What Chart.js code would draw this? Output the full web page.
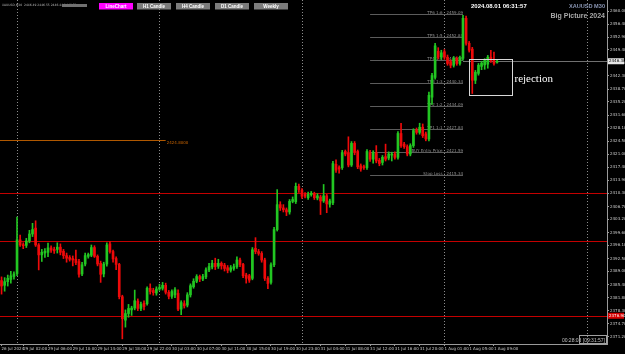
<!DOCTYPE html>
<html>
<head>
<meta charset="utf-8">
<script src="https://cdn.jsdelivr.net/npm/chart.js@4.4.1/dist/chart.umd.min.js"></script>
<style>
html, body { margin: 0; padding: 0; background: #000; }
#wrap { width: 625px; height: 354px; position: relative; }
</style>
</head>
<body>
<div id="wrap"><canvas id="chart"></canvas></div>
<script>
// ===============================
// XAUUSD M30 - candle data
// ===============================
const opens = [
 2386.5,2385.2,2386.2,2386.8,2387.6,2388.4,2397.6,2396.3,2396.1,2397.3,
 2399.2,2400.8,2396.2,2393.5,2394.0,2394.2,2395.4,2395.0,2395.0,2395.6,
 2394.5,2393.3,2392.8,2392.5,2392.3,2391.7,2388.3,2391.0,2393.1,2393.4,
 2395.5,2393.1,2391.2,2388.3,2391.0,2396.5,2394.4,2392.5,2390.9,2382.1,
 2375.7,2377.5,2378.5,2379.0,2380.9,2378.9,2380.3,2380.2,2384.4,2383.8,
 2383.1,2384.2,2384.4,2385.2,2383.3,2382.2,2382.6,2383.0,2378.7,2380.2,
 2379.8,2382.6,2384.8,2386.3,2387.6,2386.9,2387.5,2389.4,2390.2,2391.2,
 2390.4,2391.2,2390.7,2390.0,2389.3,2389.8,2390.3,2392.1,2390.9,2388.0,
 2387.8,2387.1,2395.3,2394.4,2393.9,2392.1,2387.1,2386.0,2390.8,2400.4,
 2407.2,2406.3,2405.8,2405.2,2408.1,2408.0,2412.2,2411.1,2410.0,2409.1,
 2409.9,2410.2,2409.0,2409.3,2408.2,2409.6,2407.3,2407.7,2418.2,2417.3,
 2417.3,2421.7,2421.4,2418.0,2423.9,2421.7,2417.8,2417.5,2417.3,2421.4,
 2419.6,2421.4,2419.3,2418.7,2420.3,2419.9,2420.7,2421.0,2420.1,2426.6,
 2423.7,2423.0,2421.0,2423.3,2427.6,2426.9,2428.3,2426.5,2425.1,2436.5,
 2441.9,2449.0,2447.4,2448.9,2447.4,2446.2,2445.2,2447.1,2445.7,2447.1,
 2458.0,2451.2,2449.6,2441.1,2443.0,2444.9,2445.3,2445.5,2447.4,2446.8,
 2446.0
];
const highs = [
 2387.5,2387.3,2388.0,2389.0,2388.9,2403.8,2398.9,2396.8,2398.0,2400.2,
 2402.1,2402.8,2396.6,2395.0,2395.2,2396.7,2396.0,2395.6,2396.8,2396.5,
 2395.0,2394.0,2393.3,2393.2,2394.8,2392.3,2391.5,2394.0,2394.0,2396.2,
 2396.0,2393.5,2391.8,2391.5,2396.8,2397.1,2394.8,2393.0,2391.2,2382.5,
 2378.5,2380.0,2379.5,2383.9,2381.5,2380.6,2381.0,2384.8,2385.6,2384.4,
 2384.8,2385.5,2386.0,2385.8,2383.8,2384.0,2384.6,2384.0,2381.0,2381.0,
 2383.2,2385.6,2387.0,2388.1,2388.0,2388.2,2390.0,2391.2,2392.0,2392.6,
 2392.3,2391.6,2391.2,2390.6,2390.6,2391.0,2393.0,2392.6,2391.2,2388.5,
 2388.2,2395.5,2398.2,2395.0,2394.4,2392.6,2387.6,2391.3,2401.0,2411.3,
 2408.0,2407.2,2406.3,2408.6,2409.3,2413.1,2412.8,2411.6,2410.5,2410.6,
 2410.8,2410.6,2410.2,2409.8,2412.7,2410.0,2408.7,2419.0,2419.4,2417.8,
 2422.0,2422.1,2425.7,2424.4,2424.4,2422.1,2418.3,2418.0,2422.2,2422.0,
 2421.9,2423.3,2419.8,2420.6,2423.7,2421.6,2421.5,2421.6,2427.1,2429.4,
 2424.2,2423.5,2423.8,2427.9,2428.1,2429.4,2429.2,2427.0,2437.9,2443.0,
 2451.2,2450.0,2449.3,2449.5,2448.0,2446.7,2447.6,2447.5,2447.7,2458.8,
 2458.6,2451.7,2450.1,2443.8,2445.7,2446.3,2447.0,2447.9,2449.3,2448.8,
 2446.7
];
const lows = [
 2382.8,2383.6,2385.0,2385.8,2386.9,2387.8,2395.8,2395.2,2395.5,2396.8,
 2398.5,2395.8,2389.4,2391.7,2392.8,2393.0,2394.2,2393.9,2394.0,2393.5,
 2392.5,2391.5,2391.8,2390.5,2390.8,2387.4,2387.8,2390.5,2392.6,2393.0,
 2392.8,2390.5,2386.0,2387.5,2390.4,2394.0,2391.5,2389.5,2381.5,2370.6,
 2373.8,2376.5,2377.0,2378.5,2378.3,2378.3,2378.5,2379.8,2382.8,2382.5,
 2382.5,2383.8,2383.9,2382.8,2381.5,2381.6,2381.8,2378.3,2377.2,2379.0,
 2379.3,2382.0,2384.4,2385.9,2386.2,2386.5,2387.0,2388.9,2389.7,2389.5,
 2389.8,2389.6,2389.1,2388.6,2388.8,2389.3,2389.8,2390.3,2387.3,2385.8,
 2386.0,2386.7,2393.8,2393.4,2391.5,2386.5,2384.3,2385.5,2390.3,2400.0,
 2405.6,2405.2,2404.2,2404.6,2407.7,2407.5,2410.5,2408.9,2409.0,2408.6,
 2409.5,2408.6,2408.5,2404.5,2407.8,2405.0,2406.5,2407.2,2416.0,2415.8,
 2416.8,2420.5,2417.5,2417.6,2420.8,2417.0,2416.3,2416.8,2416.8,2419.0,
 2418.5,2418.6,2417.8,2418.0,2419.1,2419.4,2419.1,2419.6,2419.6,2422.8,
 2422.5,2420.5,2420.5,2422.8,2426.4,2426.4,2425.5,2424.6,2424.6,2434.5,
 2441.4,2446.9,2446.8,2446.8,2445.2,2444.5,2444.7,2445.2,2445.2,2446.6,
 2450.7,2448.8,2437.5,2440.2,2442.5,2444.0,2444.1,2444.4,2446.0,2445.2,
 2445.8
];
const closes = [
 2385.0,2386.2,2387.1,2387.8,2388.3,2397.6,2396.2,2396.0,2397.3,2399.2,
 2400.4,2396.2,2393.5,2394.2,2394.5,2395.4,2394.8,2394.6,2395.6,2394.2,
 2393.3,2392.6,2392.3,2392.1,2391.4,2388.2,2390.8,2393.3,2393.6,2395.5,
 2393.1,2391.0,2388.2,2391.0,2396.2,2394.4,2392.4,2390.9,2382.1,2376.1,
 2377.5,2378.9,2379.0,2381.0,2378.9,2380.0,2379.4,2384.4,2383.5,2383.2,
 2384.2,2384.6,2385.2,2383.3,2382.2,2383.5,2384.0,2378.7,2380.5,2379.6,
 2382.6,2385.1,2386.3,2387.6,2386.9,2387.6,2389.4,2390.3,2391.2,2390.3,
 2391.2,2390.5,2389.8,2389.3,2390.0,2390.3,2392.1,2390.9,2387.8,2387.1,
 2386.6,2394.9,2394.4,2393.9,2392.1,2387.1,2385.7,2390.8,2400.4,2407.2,
 2406.3,2405.8,2405.2,2408.1,2408.6,2412.2,2411.3,2409.5,2409.5,2410.0,
 2410.3,2409.1,2409.6,2408.2,2409.6,2407.4,2408.2,2418.4,2416.6,2416.9,
 2421.4,2421.0,2418.0,2423.9,2421.4,2417.5,2416.9,2417.3,2421.7,2419.6,
 2421.4,2419.1,2418.4,2420.1,2419.6,2421.0,2421.0,2420.1,2426.6,2423.3,
 2423.0,2421.0,2423.3,2427.4,2426.9,2428.3,2426.0,2425.1,2437.0,2442.4,
 2450.5,2447.4,2448.6,2447.4,2445.7,2445.2,2447.1,2445.7,2447.2,2458.0,
 2451.2,2449.3,2441.1,2443.3,2445.2,2445.8,2446.5,2447.4,2446.5,2445.7,
 2446.3
];

// ===============================
// Axis labels
// ===============================
const tradingDays = ['26 Jul', '29 Jul', '30 Jul', '31 Jul', '1 Aug', '2 Aug'];
const totalSlots = 196;
const timeTicks = ['26 Jul 2024', '29 Jul 02:00', '29 Jul 06:00', '29 Jul 10:00', '29 Jul 14:00',
  '29 Jul 18:00', '29 Jul 22:00', '30 Jul 03:00', '30 Jul 07:00', '30 Jul 11:00', '30 Jul 15:00',
  '30 Jul 19:00', '30 Jul 23:00', '31 Jul 04:00', '31 Jul 08:00', '31 Jul 12:00', '31 Jul 16:00',
  '31 Jul 20:00', '1 Aug 01:00', '1 Aug 05:00', '1 Aug 09:00'];
const priceTicks = [2460.00, 2456.40, 2452.90, 2449.40, 2445.90, 2442.30, 2438.70, 2435.20,
  2431.60, 2428.10, 2424.50, 2421.00, 2417.40, 2413.90, 2410.30, 2406.70, 2403.20, 2399.60,
  2396.10, 2392.50, 2389.00, 2385.40, 2381.80, 2378.30, 2374.70, 2371.20];

// ===============================
// Drawn objects (levels)
// ===============================
const redLevels = [2410.4, 2397.3, 2376.9];
const orangeLevel = 2424.8;
const orangeText = '2424.8000';
const fibLevels = [2459.09, 2452.84, 2446.59, 2440.34, 2434.09, 2427.84, 2421.59, 2415.34];
const fibTexts = ['TP6 1:6 - 2459.09', 'TP5 1:5 - 2452.84', 'TP4 1:4 - 2446.59', 'TP3 1:3 - 2440.34',
  'TP2 1:2 - 2434.09', 'TP1 1:1 - 2427.84', 'BUY Entry Price - 2421.59', 'Stop Loss - 2415.34'];
const fibFrom = '31 Jul 12:00';
const fibTo = '1 Aug 04:00';
const orangeTo = '30 Jul 02:00';
const rejectBox = { from: 150.9, to: 164.8, top: 2446.9, bottom: 2437.1 };

function buildTimes() {
    const out = [];
    tradingDays.forEach((d, k) => {
        const start = k === 0 ? 21.5 : 1;
        for (let h = start; h < 24; h += 0.5) {
            const hh = String(Math.floor(h)).padStart(2, '0');
            out.push(d + ' ' + hh + ':' + (h % 1 ? '30' : '00'));
        }
    });
    return out.slice(0, totalSlots);
}
const times = buildTimes();

function tickText(i) {
    if (i === 0) return timeTicks[0];
    return timeTicks.includes(times[i]) ? times[i] : '';
}

const UP = '#22c622';
const DOWN = '#ee0a0a';
const candleColors = opens.map((o, i) => closes[i] >= o ? UP : DOWN);

// ===============================
// Overlay plugin
// ===============================
const overlay = {
    id: 'overlay',
    beforeDraw(chart) {
        const c = chart.ctx;
        c.save();
        c.fillStyle = '#000';
        c.fillRect(0, 0, chart.width, chart.height);
        c.restore();
    },
    beforeDatasetsDraw(chart) {
        const c = chart.ctx;
        const xs = chart.scales.x, ys = chart.scales.y;
        const a = chart.chartArea;
        c.save();
        c.lineWidth = 1;

        // day separators
        c.strokeStyle = '#8c8c8c';
        c.setLineDash([1, 2]);
        times.forEach((t, i) => {
            if (i > 0 && t.endsWith(' 01:00')) {
                const x = Math.round(xs.getPixelForValue(i)) + 0.5;
                c.beginPath(); c.moveTo(x, a.top); c.lineTo(x, a.bottom); c.stroke();
            }
        });
        c.setLineDash([]);

        // red levels
        c.strokeStyle = '#c40000';
        redLevels.forEach(v => {
            const y = Math.round(ys.getPixelForValue(v)) + 0.5;
            c.beginPath(); c.moveTo(a.left, y); c.lineTo(a.right, y); c.stroke();
        });

        // orange level
        const oy = Math.round(ys.getPixelForValue(orangeLevel)) + 0.5;
        const ox = xs.getPixelForValue(times.indexOf(orangeTo));
        c.strokeStyle = '#b05800';
        c.beginPath(); c.moveTo(a.left, oy); c.lineTo(ox, oy); c.stroke();
        c.fillStyle = '#c86400';
        c.font = '4px "DejaVu Sans"';
        c.textBaseline = 'middle';
        c.fillText(orangeText, ox + 1, oy + 2);

        // fib levels
        const fx0 = xs.getPixelForValue(times.indexOf(fibFrom));
        const fx1 = xs.getPixelForValue(times.indexOf(fibTo));
        c.strokeStyle = '#5c5c5c';
        c.fillStyle = '#8e8e8e';
        c.textAlign = 'right';
        c.textBaseline = 'alphabetic';
        fibLevels.forEach((v, k) => {
            const y = Math.round(ys.getPixelForValue(v)) + 0.5;
            c.beginPath(); c.moveTo(fx0, y); c.lineTo(fx1, y); c.stroke();
            c.fillText(fibTexts[k], fx1, y - 1);
        });

        // last price ray
        const last = closes[closes.length - 1];
        const ly = Math.round(ys.getPixelForValue(last)) + 0.5;
        c.strokeStyle = '#707070';
        c.beginPath(); c.moveTo(fx1, ly); c.lineTo(a.right, ly); c.stroke();
        c.restore();
    },
    afterDraw(chart) {
        const c = chart.ctx;
        const xs = chart.scales.x, ys = chart.scales.y;
        const a = chart.chartArea;
        c.save();

        // rejection box
        const bx0 = Math.round(xs.getPixelForValue(rejectBox.from)) + 0.5;
        const bx1 = Math.round(xs.getPixelForValue(rejectBox.to)) + 0.5;
        const by0 = Math.round(ys.getPixelForValue(rejectBox.top)) + 0.5;
        const by1 = Math.round(ys.getPixelForValue(rejectBox.bottom)) + 0.5;
        c.strokeStyle = '#d8d8d8';
        c.lineWidth = 1;
        c.strokeRect(bx0, by0, bx1 - bx0, by1 - by0);
        c.fillStyle = '#ffffff';
        c.font = '11px "Liberation Serif"';
        c.textBaseline = 'alphabetic';
        c.fillText('rejection', bx1 + 2, (by0 + by1) / 2 + 4);

        // price labels on axis
        const last = closes[closes.length - 1];
        const ly = ys.getPixelForValue(last);
        c.fillStyle = '#e6e6e6';
        c.fillRect(a.right + 1, ly - 3, 16, 6);
        c.fillStyle = '#000';
        c.font = '4px "DejaVu Sans"';
        c.textBaseline = 'middle';
        c.fillText(last.toFixed(2), a.right + 2, ly);
        const ry = ys.getPixelForValue(redLevels[2]);
        c.fillStyle = '#d40000';
        c.fillRect(a.right + 1, ry - 3, 16, 6);
        c.fillStyle = '#fff';
        c.fillText(redLevels[2].toFixed(2), a.right + 2, ry);

        // header line
        c.fillStyle = '#b8b8b8';
        c.font = '3px "DejaVu Sans"';
        c.textBaseline = 'middle';
        c.fillText('XAUUSD,M30  2446.49 2446.55 2446.44 2446.53', 2, 5);
        c.fillStyle = '#707070';
        c.fillRect(62, 4, 25, 3);

        // buttons
        const buttons = [['LineChart', 99, '#ff00ff'], ['H1 Candle', 137, '#7c7c7c'],
            ['H4 Candle', 176, '#7c7c7c'], ['D1 Candle', 215, '#7c7c7c'], ['Weekly', 254, '#7c7c7c']];
        c.font = 'bold 4.5px "Liberation Sans"';
        c.textAlign = 'center';
        buttons.forEach(([t, x, col]) => {
            c.fillStyle = col;
            c.fillRect(x, 3, 34, 6.5);
            c.fillStyle = '#fff';
            c.fillText(t, x + 17, 6.4);
        });

        // top right texts
        c.textBaseline = 'alphabetic';
        c.textAlign = 'left';
        c.fillStyle = '#ffffff';
        c.font = 'bold 6px "Liberation Sans"';
        c.fillText('2024.08.01 06:31:57', 471, 8);
        c.textAlign = 'right';
        c.fillStyle = '#8a96b4';
        c.font = 'bold 5.6px "Liberation Sans"';
        c.fillText('XAUUSD M30', 605, 8);
        c.fillStyle = '#a8a8a8';
        c.font = 'bold 7px "Liberation Sans"';
        c.fillText('Big Picture 2024', 605, 18);

        // bar timer
        c.fillStyle = '#c0c0c0';
        c.font = '5px "Liberation Sans"';
        c.fillText('00:28:03 [09:31:57]', 605, 342);
        c.strokeStyle = '#a0a0a0';
        c.strokeRect(579.5, 335.5, 27, 8);
        c.restore();
    }
};

// ===============================
// Chart
// ===============================
const chart = new Chart(document.getElementById('chart'), {
    type: 'bar',
    data: {
        labels: times,
        datasets: [
            {
                label: 'wick',
                data: lows.map((l, i) => [l, highs[i]]),
                backgroundColor: candleColors,
                barThickness: 1,
                grouped: false,
                order: 2
            },
            {
                label: 'body',
                data: opens.map((o, i) => [o, closes[i]]),
                backgroundColor: candleColors,
                barThickness: 2,
                minBarLength: 1,
                grouped: false,
                order: 1
            }
        ]
    },
    options: {
        responsive: true,
        maintainAspectRatio: false,
        animation: false,
        devicePixelRatio: 1,
        layout: { padding: 0 },
        plugins: { legend: { display: false }, tooltip: { enabled: false } },
        scales: {
            x: {
                type: 'category',
                offset: true,
                grid: {
                    drawOnChartArea: false,
                    offset: false,
                    tickLength: 2,
                    color: ctx => tickText(ctx.index) ? '#9a9a9a' : 'rgba(0,0,0,0)'
                },
                border: { color: '#9a9a9a' },
                ticks: {
                    autoSkip: false,
                    maxRotation: 0,
                    minRotation: 0,
                    align: 'start',
                    padding: 1,
                    color: '#c8c8c8',
                    font: { size: 4, family: 'DejaVu Sans' },
                    callback: (v, i) => tickText(i)
                },
                afterFit: s => { s.height = 10; s.paddingLeft = 0; s.paddingRight = 0; }
            },
            y: {
                position: 'right',
                min: 2369.2,
                max: 2463.0,
                afterBuildTicks: s => { s.ticks = priceTicks.map(v => ({ value: v })); },
                grid: { drawOnChartArea: false, tickLength: 2, color: '#9a9a9a' },
                border: { color: '#9a9a9a' },
                ticks: {
                    padding: 1,
                    color: '#c8c8c8',
                    font: { size: 4, family: 'DejaVu Sans' },
                    callback: v => Number(v).toFixed(2)
                },
                afterFit: s => { s.width = 18; s.paddingTop = 0; s.paddingBottom = 0; }
            }
        }
    },
    plugins: [overlay]
});
</script>
</body>
</html>
